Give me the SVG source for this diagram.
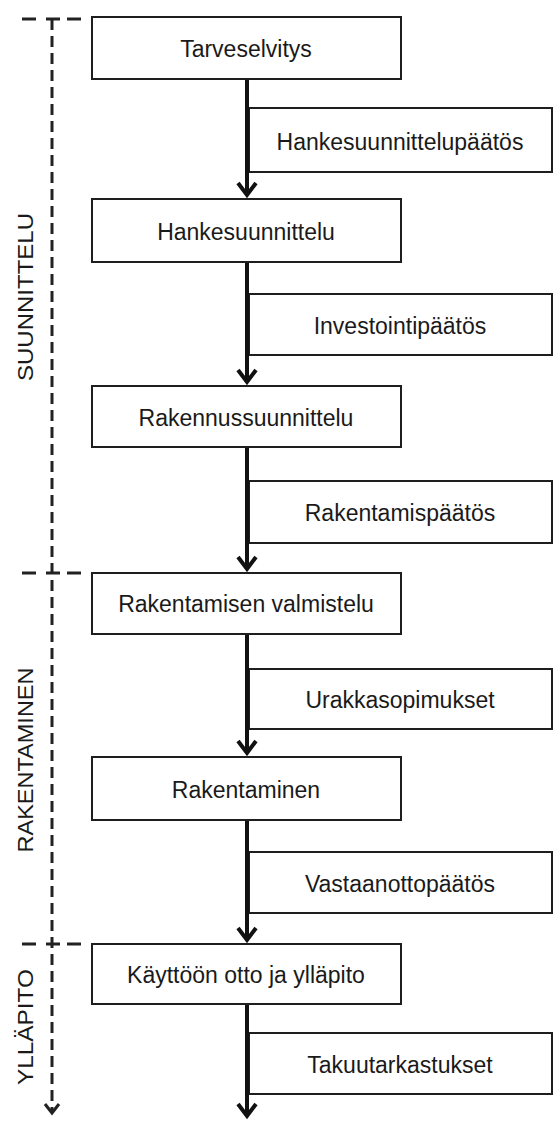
<svg xmlns="http://www.w3.org/2000/svg" width="554" height="1122" viewBox="0 0 554 1122">
  <style>
    .box { fill: #ffffff; stroke: #1e1e1e; stroke-width: 2; }
    .lbl { font-family: "Liberation Sans", Arial, sans-serif; font-size: 23px; fill: #1a1a1a; text-anchor: middle; }
    .phase { font-family: "Liberation Sans", Arial, sans-serif; font-size: 22px; fill: #1a1a1a; text-anchor: middle; }
    .flow { fill: none; stroke: #111111; stroke-width: 4; marker-end: url(#chev); }
    .dash { fill: none; stroke: #222222; stroke-width: 3; stroke-dasharray: 11 6; }
    .tick { fill: none; stroke: #222222; stroke-width: 3; }
  </style>
  <defs>
    <marker id="chev" markerUnits="userSpaceOnUse" viewBox="-16 -12 20 24" refX="0" refY="0" markerWidth="20" markerHeight="24" orient="auto">
      <path d="M-12,-9 L0,0 L-12,9" fill="none" stroke="#111111" stroke-width="4"/>
    </marker>
    <marker id="chevs" markerUnits="userSpaceOnUse" viewBox="-12 -10 16 20" refX="0" refY="0" markerWidth="16" markerHeight="20" orient="auto">
      <path d="M-9,-7 L0,0 L-9,7" fill="none" stroke="#222222" stroke-width="3"/>
    </marker>
  </defs>

  <rect width="554" height="1122" fill="#ffffff"/>

  <!-- phase axis on the left -->
  <g id="phases">
    <path class="dash" d="M52,19 V1113" marker-end="url(#chevs)"/>
    <path class="tick" d="M22,19h14M46,19h14M67,19h14"/>
    <path class="tick" d="M22,573h14M46,573h14M67,573h14"/>
    <path class="tick" d="M22,944h14M46,944h14M67,944h14"/>
    <text class="phase" transform="translate(33,297) rotate(-90)" textLength="168" lengthAdjust="spacingAndGlyphs">SUUNNITTELU</text>
    <text class="phase" transform="translate(33,760) rotate(-90)" textLength="185" lengthAdjust="spacingAndGlyphs">RAKENTAMINEN</text>
    <text class="phase" transform="translate(33,1027) rotate(-90)" textLength="116" lengthAdjust="spacingAndGlyphs">YLLÄPITO</text>
  </g>

  <!-- decision boxes sit against the flow line -->
  <g id="d1"><rect class="box" x="249" y="108" width="303" height="64"/><text class="lbl" x="400" y="150">Hankesuunnittelupäätös</text></g>
  <g id="d2"><rect class="box" x="249" y="294" width="303" height="61"/><text class="lbl" x="400" y="334">Investointipäätös</text></g>
  <g id="d3"><rect class="box" x="249" y="481" width="303" height="62"/><text class="lbl" x="400" y="521">Rakentamispäätös</text></g>
  <g id="d4"><rect class="box" x="249" y="669" width="303" height="60"/><text class="lbl" x="400" y="708">Urakkasopimukset</text></g>
  <g id="d5"><rect class="box" x="249" y="852" width="303" height="61"/><text class="lbl" x="400" y="892">Vastaanottopäätös</text></g>
  <g id="d6"><rect class="box" x="249" y="1033" width="303" height="61"/><text class="lbl" x="400" y="1073">Takuutarkastukset</text></g>

  <!-- main process flow -->
  <g id="connectors">
    <line class="flow" x1="247" y1="79" x2="247" y2="195"/>
    <line class="flow" x1="247" y1="262" x2="247" y2="382"/>
    <line class="flow" x1="247" y1="447" x2="247" y2="569"/>
    <line class="flow" x1="247" y1="634" x2="247" y2="753"/>
    <line class="flow" x1="247" y1="820" x2="247" y2="940"/>
    <line class="flow" x1="247" y1="1004" x2="247" y2="1116"/>
  </g>

  <!-- process stages -->
  <g id="n1"><rect class="box" x="92" y="17" width="309" height="62"/><text class="lbl" x="246" y="57">Tarveselvitys</text></g>
  <g id="n2"><rect class="box" x="92" y="199" width="309" height="63"/><text class="lbl" x="246" y="240">Hankesuunnittelu</text></g>
  <g id="n3"><rect class="box" x="92" y="386" width="309" height="61"/><text class="lbl" x="246" y="426">Rakennussuunnittelu</text></g>
  <g id="n4"><rect class="box" x="92" y="573" width="309" height="61"/><text class="lbl" x="246" y="612">Rakentamisen valmistelu</text></g>
  <g id="n5"><rect class="box" x="92" y="757" width="309" height="63"/><text class="lbl" x="246" y="798">Rakentaminen</text></g>
  <g id="n6"><rect class="box" x="92" y="944" width="309" height="60"/><text class="lbl" x="246" y="983">Käyttöön otto ja ylläpito</text></g>
</svg>
